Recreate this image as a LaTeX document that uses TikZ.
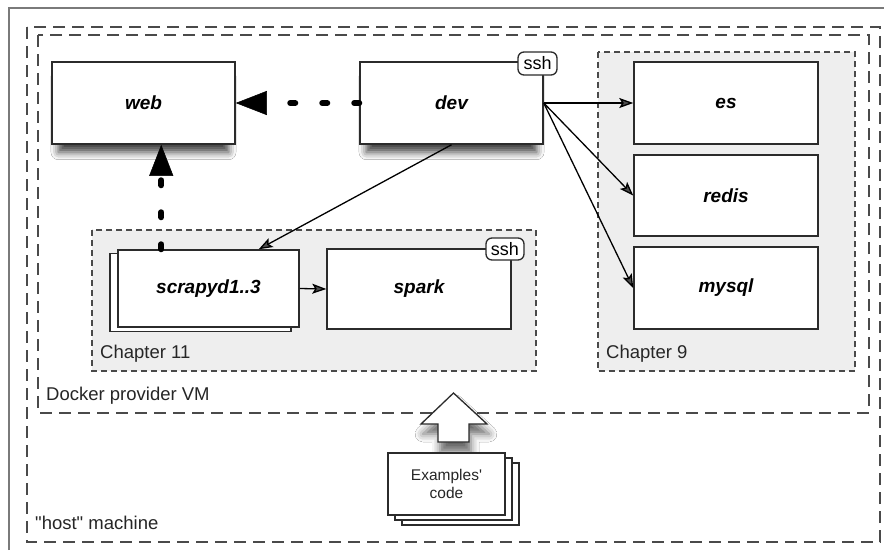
\documentclass[tikz,border=0pt]{standalone}
\usepackage{fontspec}
\setmainfont{Liberation Sans}
\newfontfamily\rawfont{Liberation Sans}
\usetikzlibrary{arrows.meta,shadows.blur}
\definecolor{linecol}{HTML}{2B2B2B}
\definecolor{dashcol}{HTML}{4A4A4A}
\definecolor{chapfill}{HTML}{EEEEEE}
\definecolor{framecol}{HTML}{7A7A7A}
\begin{document}
\begin{tikzpicture}[x=1pt,y=-1pt,
  container/.style={draw=dashcol, line width=1.6pt, dash pattern=on 12pt off 7pt},
  chapter/.style={draw=dashcol, fill=chapfill, line width=1.4pt, dash pattern=on 6pt off 4pt},
  svc/.style={draw=linecol, fill=white, line width=1.5pt, minimum width=183pt, minimum height=82pt, inner sep=0pt, font=\fontsize{19}{22}\selectfont\bfseries\itshape},
  shadowed/.style={blur shadow={shadow xshift=0pt, shadow yshift=-12pt, shadow scale=0.93, shadow blur radius=8pt, shadow opacity=75}},
  tag/.style={draw=linecol, fill=white, line width=1.3pt, rounded corners=6pt, minimum width=39pt, minimum height=23pt, inner sep=0pt, font=\fontsize{18}{20}\selectfont},
  boxlabel/.style={anchor=base west, inner sep=0pt, font=\fontsize{18.5}{20}\rawfont, text=black!85},
  codebox/.style={draw=linecol, fill=white, line width=1.3pt, minimum width=117pt, minimum height=62pt, inner sep=0pt, align=center, font=\fontsize{15.5}{18.5}\rawfont, text=black!85},
  thickdash/.style={line width=6pt, line cap=round, dash pattern=on 5pt off 27pt, -{Triangle[length=31pt,width=24pt,line width=0.5pt,fill=black]}},
  conn/.style={line width=1.3pt, -{Stealth[length=14pt,width=10pt,inset=3pt]}},
]
\useasboundingbox (0,0) rectangle (884,550);
\fill[white] (0,0) rectangle (884,550);
% frame
\draw[framecol, line width=1.5pt] (9,550) -- (9,8) -- (884,8);
% containers
\draw[container] (27,27) rectangle (880,542);
\draw[container] (38,35) rectangle (869,413);
\draw[chapter] (92,230) rectangle (536,371);
\draw[chapter] (598,52) rectangle (855,371);
% services
\node[svc, shadowed] (web) at (143.5,103) {web};
\node[svc, shadowed] (dev) at (451.5,103) {dev};
\node[svc, minimum width=184pt] (es) at (726,103) {es};
\node[svc, minimum width=184pt, minimum height=81pt] (redis) at (726,195.5) {redis};
\node[svc, minimum width=184pt] (mysql) at (726,288) {mysql};
\node[svc, minimum width=181pt, minimum height=78pt] (scrapydback) at (200.5,292.5) {};
\node[svc, minimum width=181pt, minimum height=77pt] (scrapyd) at (208.5,288.5) {scrapyd1..3};
\node[svc, minimum width=184pt, minimum height=80pt] (spark) at (419,289) {spark};
\node[tag] (devssh) at (537.5,63.5) {ssh};
\node[tag, minimum width=38pt, minimum height=22pt] (sparkssh) at (505,249) {ssh};
% labels
\node[boxlabel] (ch11) at (100,358) {Chapter 11};
\node[boxlabel] (ch9) at (606,358) {Chapter 9};
\node[boxlabel] (vm) at (46,400) {Docker provider VM};
\node[boxlabel] (host) at (35,529) {"host" machine};
% big hollow arrow
\draw[linecol, fill=white, line width=1.3pt, blur shadow={shadow xshift=2pt, shadow yshift=-10pt, shadow blur radius=8pt, shadow opacity=60}] (438,442) -- (438,424) -- (421,424) -- (453.5,393) -- (487,424) -- (469,424) -- (469,442) -- cycle;
% examples' code stack
\node[codebox] (code3) at (460.5,494) {};
\node[codebox] (code2) at (453.5,489) {};
\node[codebox] (code1) at (446.5,484) {Examples'\\code};
% connectors
\coordinate (scrtop) at ([xshift=44pt]scrapyd.north west);
\coordinate (scrin) at ([xshift=-41pt]scrapyd.north east);
\draw[thickdash] (dev.west) -- (web.east);
\draw[thickdash] (scrtop) -- (scrtop |- web.south);
\draw[conn] (dev.south) -- (scrin);
\draw[conn] (dev.east) -- (es.west);
\draw[conn] (dev.east) -- (redis.west);
\draw[conn] (dev.east) -- (mysql.west);
\draw[conn] (scrapyd.east) -- (spark.west);
\end{tikzpicture}
\end{document}
